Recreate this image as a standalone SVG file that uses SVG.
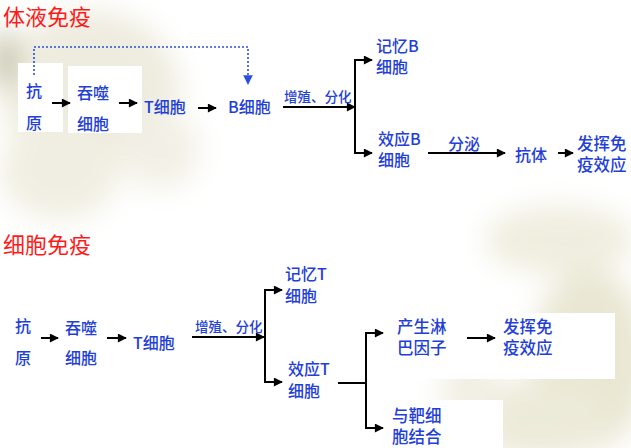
<svg xmlns="http://www.w3.org/2000/svg" width="631" height="448" viewBox="0 0 631 448">
<defs>
<style>
.t{font-family:"Noto Sans CJK SC","Liberation Sans",sans-serif;fill:#1f3fd8;font-size:16px;font-weight:500;dominant-baseline:central}
.s{font-size:13.5px}
.m{font-size:16.5px}
.h{font-family:"Noto Sans CJK SC",serif;fill:#ff1a1a;font-size:22px;dominant-baseline:central}
.c{stroke:#000;stroke-width:2;fill:none}
.a{stroke:#000;stroke-width:2;fill:none;marker-end:url(#ah)}
</style>
<marker id="ah" viewBox="0 0 10 10" refX="9" refY="5" markerWidth="5" markerHeight="4.5" orient="auto" markerUnits="strokeWidth"><path d="M0,0 L10,5 L0,10 z" fill="#000"/></marker>
<marker id="bh" viewBox="0 0 10 10" refX="9" refY="5" markerWidth="6" markerHeight="6" orient="auto" markerUnits="strokeWidth"><path d="M0,0 L10,5 L0,10 z" fill="#2a4fe0"/></marker>
<filter id="bl" x="-50%" y="-50%" width="200%" height="200%"><feGaussianBlur stdDeviation="14"/></filter>
</defs>
<rect width="631" height="448" fill="#fff"/>
<g id="background" filter="url(#bl)" opacity="0.9">
<ellipse cx="90" cy="90" rx="90" ry="80" fill="#eceadb"/>
<ellipse cx="60" cy="170" rx="60" ry="50" fill="#efeddf"/>
<ellipse cx="160" cy="150" rx="40" ry="40" fill="#f1efe3"/>
<ellipse cx="5" cy="60" rx="10" ry="30" fill="#a9a57e"/>
<ellipse cx="560" cy="240" rx="75" ry="35" fill="#eeecdc"/>
<ellipse cx="590" cy="360" rx="60" ry="90" fill="#e7e4ce"/>
<ellipse cx="540" cy="420" rx="70" ry="40" fill="#ebe8d5"/>
<ellipse cx="470" cy="390" rx="30" ry="40" fill="#f0eee1"/>
</g>
<g id="panels" fill="#fff">
<rect x="18" y="63" width="45" height="69"/>
<rect x="68" y="66" width="74" height="67"/>
<rect x="383" y="313" width="232" height="66"/>
<rect x="383" y="400" width="120" height="48"/>
</g>
<g id="titles">
<text class="h" x="3" y="15">体液免疫</text>
<text class="h" x="3" y="243">细胞免疫</text>
</g>
<g id="connectors">
<path d="M34,75 V47 H248 V84" stroke="#2a4fe0" stroke-width="1.6" stroke-dasharray="2,2" fill="none" marker-end="url(#bh)"/>
<line class="a" x1="52" y1="103" x2="70" y2="103"/>
<line class="a" x1="119" y1="103" x2="137" y2="103"/>
<line class="a" x1="198" y1="108" x2="216" y2="108"/>
<line class="a" x1="283" y1="107" x2="355" y2="107"/>
<path class="c" d="M372,60 H355 V153 H372"/>
<line class="a" x1="363" y1="60" x2="372" y2="60"/>
<line class="a" x1="363" y1="153" x2="372" y2="153"/>
<line class="a" x1="428" y1="153" x2="505" y2="153"/>
<line class="a" x1="558" y1="153" x2="573" y2="153"/>
<line class="a" x1="41" y1="338" x2="58" y2="338"/>
<line class="a" x1="107" y1="338" x2="126" y2="338"/>
<line class="a" x1="192" y1="337" x2="264" y2="337"/>
<path class="c" d="M282,290 H265 V382 H282"/>
<line class="a" x1="272" y1="290" x2="282" y2="290"/>
<line class="a" x1="272" y1="382" x2="282" y2="382"/>
<line class="c" x1="338" y1="383" x2="366" y2="383"/>
<path class="c" d="M383,333 H366 V428 H383"/>
<line class="a" x1="373" y1="333" x2="383" y2="333"/>
<line class="a" x1="373" y1="428" x2="383" y2="428"/>
<line class="a" x1="467" y1="338" x2="495" y2="338"/>
</g>
<g id="n-antigen1"><text class="t" x="26" y="90">抗</text><text class="t" x="26" y="122">原</text></g>
<g id="n-phago1"><text class="t" x="77" y="92">吞噬</text><text class="t" x="77" y="123">细胞</text></g>
<g id="n-t1"><text class="t" x="144" y="106">T细胞</text></g>
<g id="n-b1"><text class="t" x="228" y="106">B细胞</text></g>
<g id="l-prolif1"><text class="t s" x="284" y="96">增殖、分化</text></g>
<g id="n-memb"><text class="t" x="376" y="45">记忆B</text><text class="t" x="376" y="66">细胞</text></g>
<g id="n-effb"><text class="t" x="378" y="138">效应B</text><text class="t" x="378" y="159">细胞</text></g>
<g id="l-secrete"><text class="t" x="448" y="143">分泌</text></g>
<g id="n-antibody"><text class="t" x="515" y="154">抗体</text></g>
<g id="n-effect1"><text class="t m" x="577" y="143">发挥免</text><text class="t m" x="577" y="164">疫效应</text></g>
<g id="n-antigen2"><text class="t" x="15" y="325">抗</text><text class="t" x="15" y="357">原</text></g>
<g id="n-phago2"><text class="t" x="65" y="327">吞噬</text><text class="t" x="65" y="357">细胞</text></g>
<g id="n-t2"><text class="t" x="133" y="342">T细胞</text></g>
<g id="l-prolif2"><text class="t s" x="195" y="326">增殖、分化</text></g>
<g id="n-memt"><text class="t" x="285" y="273">记忆T</text><text class="t" x="285" y="295">细胞</text></g>
<g id="n-efft"><text class="t" x="288" y="368">效应T</text><text class="t" x="288" y="390">细胞</text></g>
<g id="n-lymph"><text class="t m" x="397" y="326">产生淋</text><text class="t m" x="397" y="347">巴因子</text></g>
<g id="n-effect2"><text class="t m" x="503" y="326">发挥免</text><text class="t m" x="503" y="347">疫效应</text></g>
<g id="n-target"><text class="t m" x="392" y="415">与靶细</text><text class="t m" x="392" y="436">胞结合</text></g>
</svg>
